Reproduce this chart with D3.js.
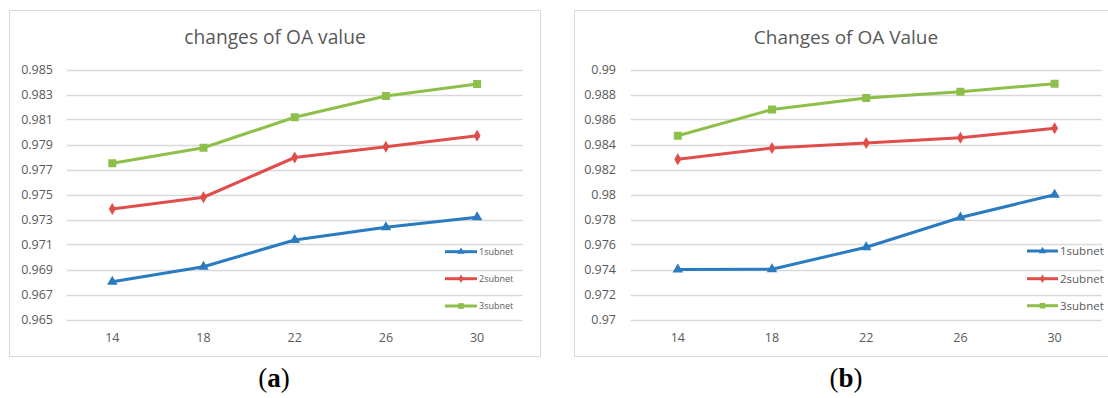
<!DOCTYPE html>
<html>
<head>
<meta charset="utf-8">
<script src="https://cdn.jsdelivr.net/npm/d3@7"></script>
<style>
  body { margin: 0; background: #fff; }
  svg { display: block; }
  text { font-family: "Open Sans", sans-serif; fill: #595959; }
</style>
</head>
<body>
<div id="chart"></div>
<script>
// x categories (shared by both panels)
var xLabels = ["14", "18", "22", "26", "30"];
var seriesNames = ["1subnet", "2subnet", "3subnet"];

// panel (a) values
var oaA1 = [0.96802, 0.96922, 0.97136, 0.97238, 0.97318];
var oaA2 = [0.97384, 0.97478, 0.97796, 0.97882, 0.97970];
var oaA3 = [0.97750, 0.97874, 0.98118, 0.98288, 0.98384];
var yTicksA = [0.965, 0.967, 0.969, 0.971, 0.973, 0.975, 0.977, 0.979, 0.981, 0.983, 0.985];

// panel (b) values
var oaB1 = [0.97400, 0.97402, 0.97578, 0.97816, 0.97998];
var oaB2 = [0.98282, 0.98372, 0.98412, 0.98454, 0.98530];
var oaB3 = [0.98470, 0.98680, 0.98772, 0.98822, 0.98886];
var yTicksB = [0.97, 0.972, 0.974, 0.976, 0.978, 0.98, 0.982, 0.984, 0.986, 0.988, 0.99];

var colors = ["#2a7bbf", "#df4e4b", "#8dbf4a"];
var shapes = [d3.symbolTriangle, d3.symbolDiamond, d3.symbolSquare];
var shapeSize = [48, 42, 64];

var width = 1108, height = 398;
var svg = d3.select("#chart").append("svg")
    .attr("width", width)
    .attr("height", height);

var panels = [
  { title: "changes of OA value", caption: "a", series: [oaA1, oaA2, oaA3], ticks: yTicksA,
    frame: [9.5, 10.5, 531, 346], plotX: [66.7, 522.7], plotY: [319.5, 69.5], tickX: 53, titleX: 275,
    legX: [445, 477], legY: [251.7, 278.7, 306], legFont: 9, titleFont: 19.2, capX: 274 },
  { title: "Changes of OA Value", caption: "b", series: [oaB1, oaB2, oaB3], ticks: yTicksB,
    frame: [574.5, 10.5, 545, 346], plotX: [630.7, 1101.7], plotY: [319.5, 69.5], tickX: 616, titleX: 846,
    legX: [1027, 1058], legY: [251, 278.7, 305.7], legFont: 11.5, titleFont: 19, capX: 846 }
];

panels.forEach(function (p) {
  var g = svg.append("g");

  g.append("rect")
    .attr("x", p.frame[0]).attr("y", p.frame[1])
    .attr("width", p.frame[2]).attr("height", p.frame[3])
    .attr("fill", "#fff").attr("stroke", "#d9d9d9").attr("stroke-width", 1);

  var x = d3.scalePoint().domain(xLabels).range(p.plotX).padding(0.5);
  var y = d3.scaleLinear().domain(d3.extent(p.ticks)).range(p.plotY);

  // gridlines
  g.selectAll(".grid").data(p.ticks).enter().append("line")
    .attr("x1", p.plotX[0]).attr("x2", p.plotX[1])
    .attr("y1", function (d) { return Math.round(y(d)) + 0.5; })
    .attr("y2", function (d) { return Math.round(y(d)) + 0.5; })
    .attr("stroke", "#d9d9d9").attr("stroke-width", 1.3);

  // y tick labels
  g.selectAll(".ylab").data(p.ticks).enter().append("text")
    .attr("x", p.tickX).attr("y", function (d) { return y(d); })
    .attr("dy", "0.35em").attr("text-anchor", "end")
    .style("font-size", "12.5px")
    .text(function (d) { return String(+d.toFixed(3)); });

  // x tick labels
  g.selectAll(".xlab").data(xLabels).enter().append("text")
    .attr("x", function (d) { return x(d); }).attr("y", 338)
    .attr("dy", "0.35em").attr("text-anchor", "middle")
    .style("font-size", "12.5px")
    .text(function (d) { return d; });

  // title
  g.append("text")
    .attr("x", p.titleX).attr("y", 43.5)
    .attr("text-anchor", "middle")
    .style("font-size", p.titleFont + "px")
    .text(p.title);

  var line = d3.line()
    .x(function (d, i) { return x(xLabels[i]); })
    .y(function (d) { return y(d); });

  p.series.forEach(function (vals, s) {
    g.append("path").datum(vals)
      .attr("d", line)
      .attr("fill", "none")
      .attr("stroke", colors[s]).attr("stroke-width", 3)
      .attr("stroke-linejoin", "round");
    g.selectAll(".m" + s).data(vals).enter().append("path")
      .attr("d", d3.symbol().type(shapes[s]).size(shapeSize[s]))
      .attr("transform", function (d, i) { return "translate(" + x(xLabels[i]) + "," + y(d) + ")"; })
      .attr("fill", colors[s]);

    // legend entry
    var ly = p.legY[s];
    g.append("line")
      .attr("x1", p.legX[0]).attr("x2", p.legX[1])
      .attr("y1", ly).attr("y2", ly)
      .attr("stroke", colors[s]).attr("stroke-width", 3);
    g.append("path")
      .attr("d", d3.symbol().type(shapes[s]).size(shapeSize[s] * 0.5))
      .attr("transform", "translate(" + (p.legX[0] + p.legX[1]) / 2 + "," + ly + ")")
      .attr("fill", colors[s]);
    g.append("text")
      .attr("x", p.legX[1] + 2).attr("y", ly)
      .attr("dy", "0.35em")
      .style("font-size", p.legFont + "px")
      .text(seriesNames[s]);
  });

  // caption "(a)" / "(b)"
  var cap = svg.append("text")
    .attr("x", p.capX).attr("y", 387)
    .attr("text-anchor", "middle")
    .style("font-family", "'Liberation Serif', 'DejaVu Serif', serif")
    .style("font-size", "27px")
    .style("fill", "#000");
  cap.append("tspan").text("(");
  cap.append("tspan").style("font-weight", "bold").text(p.caption);
  cap.append("tspan").text(")");
});
</script>
</body>
</html>
